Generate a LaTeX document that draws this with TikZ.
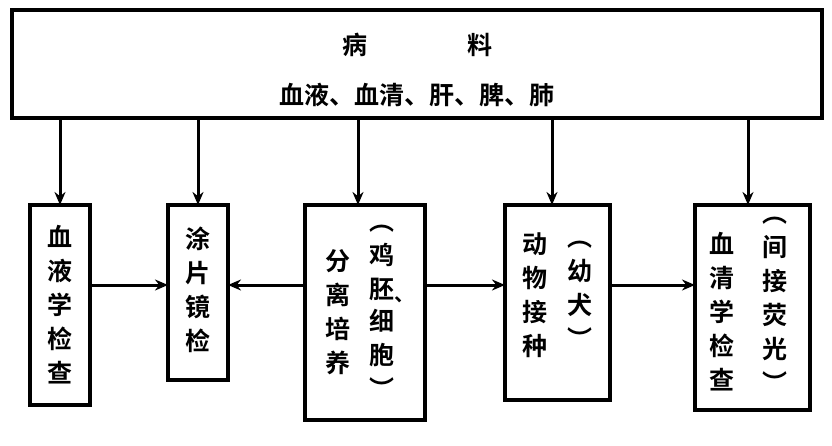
\documentclass[tikz,border=0pt]{standalone}
\usepackage{fontspec}
\setmainfont{Noto Sans CJK SC}[BoldFont={* Bold}]
\usetikzlibrary{arrows.meta}
\begin{document}
\begin{tikzpicture}[x=1pt,y=-1pt,
  box/.style={draw,line width=3.2pt},
  txt/.style={font=\fontsize{25}{34}\selectfont\bfseries,align=center,inner sep=0pt},
  arr/.style={-{Stealth[length=13pt,width=11pt]},line width=3pt}]
\useasboundingbox (0,0) rectangle (832,446);
\draw[box] (12,10) rectangle (822,118);
\node[txt] (t1) at (417,45) {病\hspace{4em}料};
\node[txt] (t2) at (417,95) {血液、血清、肝、脾、肺};
\coordinate (top) at (417,118);
\draw[box] (30,205) rectangle (90,405); \coordinate (b1) at (60,205);
\node[txt] at (60,305) {血\\液\\学\\检\\查};
\draw[box] (168,205) rectangle (228,380); \coordinate (b2) at (198,205);
\node[txt] at (198,290) {涂\\片\\镜\\检};
\draw[box] (305,205) rectangle (425,420); \coordinate (b3) at (358,205);
\node[txt] at (338,312) {分\\离\\培\\养};
\node[txt] (c3) at (382,312) {︵\\鸡\\胚\\[-2pt]细\\胞\\︶};
\node[txt,font=\fontsize{20}{24}\selectfont\bfseries] (dun) at (404,300) {、};
\draw[box] (505,205) rectangle (610,400); \coordinate (b4) at (552,205);
\node[txt] at (535,295) {动\\物\\接\\种};
\node[txt] at (580,295) {︵\\幼\\犬\\︶};
\draw[box] (695,205) rectangle (810,410); \coordinate (b5) at (748,205);
\node[txt] at (722,312) {血\\清\\学\\检\\查};
\node[txt] at (775,305) {︵\\间\\接\\荧\\光\\︶};
\foreach \x/\b in {60/b1,198/b2,358/b3,552/b4,748/b5}
  \draw[arr] (\x,118) -- (\b);
\draw[arr] (90,285) -- (168,285);
\draw[arr] (305,285) -- (228,285);
\draw[arr] (425,285) -- (505,285);
\draw[arr] (610,285) -- (695,285);
\end{tikzpicture}
\end{document}
